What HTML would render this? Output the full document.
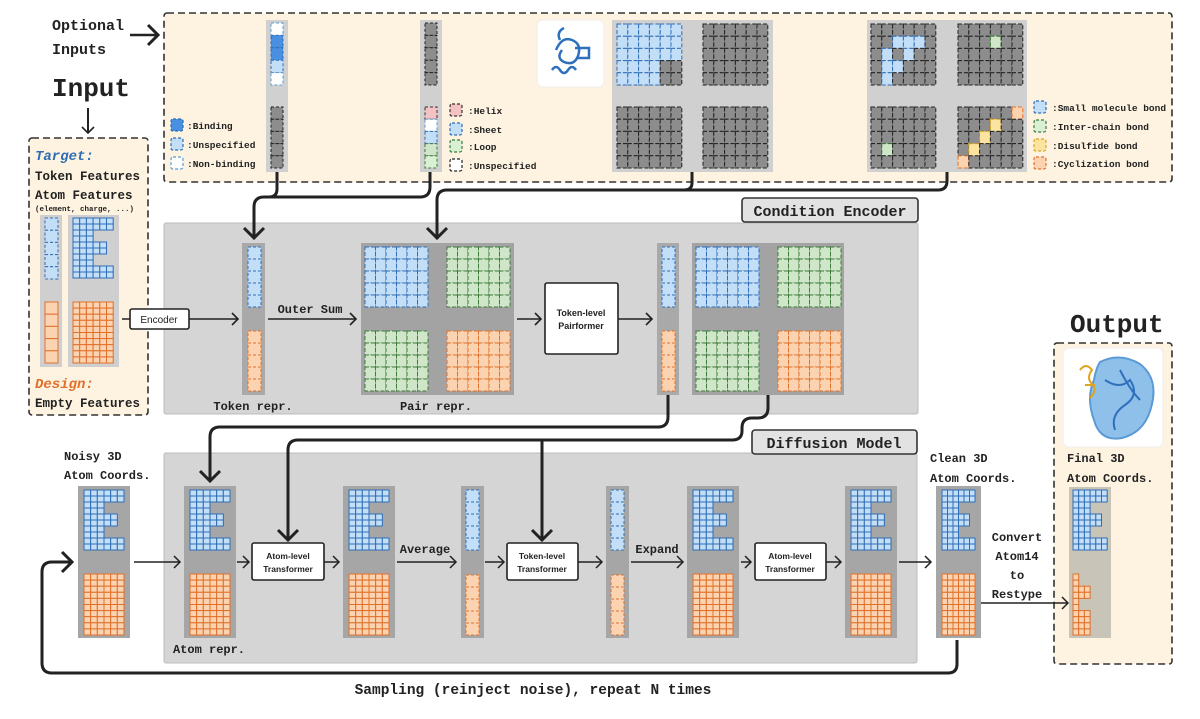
<!DOCTYPE html>
<html><head><meta charset="utf-8"><style>
html,body{margin:0;padding:0;background:#fff;}
svg{display:block;}
.m{font-family:"Liberation Mono",monospace;font-weight:bold;fill:#222;}
.s{font-family:"Liberation Sans",sans-serif;fill:#222;}
</style></head><body>
<svg id="s" width="1200" height="719" viewBox="0 0 1200 719" xmlns="http://www.w3.org/2000/svg">
<defs>
<marker id="a" markerUnits="userSpaceOnUse" markerWidth="14" markerHeight="14" refX="7" refY="7" orient="auto"><path d="M1,1 L7,7 L1,13" fill="none" stroke="#222" stroke-width="1.6"/></marker>
<marker id="b" markerUnits="userSpaceOnUse" markerWidth="24" markerHeight="24" refX="12" refY="12" orient="auto"><path d="M2,2 L12,12 L2,22" fill="none" stroke="#222" stroke-width="3"/></marker>
</defs>
<rect x="164" y="13" width="1008" height="169" rx="3" fill="#fdf3e0" stroke="#333" stroke-width="1.6" stroke-dasharray="7,4"/>
<rect x="29" y="138" width="119" height="277" rx="3" fill="#fdf3e0" stroke="#333" stroke-width="1.6" stroke-dasharray="7,4"/>
<rect x="1054" y="343" width="118" height="321" rx="3" fill="#fdf3e0" stroke="#333" stroke-width="1.6" stroke-dasharray="7,4"/>
<rect x="164" y="223" width="754" height="191" rx="2" fill="#d5d5d5" stroke="#bcbcbc"/>
<rect x="742" y="198" width="176" height="24" rx="3" fill="#e2e2e2" stroke="#333" stroke-width="1.6"/>
<rect x="164" y="453" width="753" height="210" rx="2" fill="#d5d5d5" stroke="#bcbcbc"/>
<rect x="752" y="430" width="165" height="24" rx="3" fill="#e2e2e2" stroke="#333" stroke-width="1.6"/>
<rect x="537" y="20" width="67" height="67" rx="6" fill="#fff" stroke="#eee"/>
<path d="M552,70 q4,-6 8,0 q4,6 8,0 q4,-6 8,0 M556,50 q6,-14 16,-10 q10,4 6,16 q-4,10 -14,6 q-8,-4 -2,-12 M575,48 h14 v10 h-12 M560,40 q-4,-8 4,-12" fill="none" stroke="#2f70bd" stroke-width="2.5"/>
<rect x="1063" y="348" width="100" height="99" rx="6" fill="#fff" stroke="#eee"/>
<path d="M1100,362 q20,-10 40,2 q18,14 12,40 q-6,28 -30,34 q-22,4 -28,-18 q-8,-22 0,-40 q2,-12 6,-18z" fill="#8fc0ea" stroke="#5b9bd5" stroke-width="2"/>
<path d="M1105,380 q15,10 25,0 q10,15 -5,25 q-15,10 -10,25 M1120,370 q10,20 20,30" fill="none" stroke="#2f70bd" stroke-width="2"/>
<path d="M1080,370 q6,-8 12,0 q-6,8 0,14 q6,6 -2,14 M1085,385 h10" fill="none" stroke="#e0a41f" stroke-width="2"/>
<g id="g"></g>
<g fill="none" stroke="#222">
<path d="M130,35 H158" stroke-width="2.5" marker-end="url(#b)"/>
<path d="M88,108 V133" stroke-width="2" marker-end="url(#a)"/>
<path d="M122,319 H130" stroke-width="1.5"/>
<rect x="130" y="309" width="59" height="20" rx="2" fill="#fff" stroke="#222" stroke-width="1.6"/>
<path d="M189,319 H238" stroke-width="1.5" marker-end="url(#a)"/>
<path d="M268,319 H356" stroke-width="1.5" marker-end="url(#a)"/>
<path d="M517,319 H541" stroke-width="1.5" marker-end="url(#a)"/>
<rect x="545" y="283" width="73" height="71" rx="2" fill="#fff" stroke="#222" stroke-width="1.6"/>
<path d="M618,319 H652" stroke-width="1.5" marker-end="url(#a)"/>
<path d="M430,172 V187 Q430,197 420,197 H264 Q254,197 254,207 V238" stroke-width="3" marker-end="url(#b)"/>
<path d="M277,172 V189 Q277,197 269,197" stroke-width="3"/>
<path d="M947,172 V181 Q947,190 938,190 H447 Q437,190 437,200 V238" stroke-width="3" marker-end="url(#b)"/>
<path d="M692,172 V183 Q692,190 684,190" stroke-width="3"/>
<path d="M668,395 V417 Q668,427 658,427 H220 Q210,427 210,437 V481" stroke-width="3" marker-end="url(#b)"/>
<path d="M768,395 V408 Q768,418 758,418 H752 Q742,418 742,428 V431 Q742,440 732,440 H298 Q288,440 288,450 V540" stroke-width="3" marker-end="url(#b)"/>
<path d="M542,440 V540" stroke-width="3" marker-end="url(#b)"/>
<path d="M957,640 V664 Q957,673 948,673 H52 Q42,673 42,663 V572 Q42,562 52,562 H72" stroke-width="3" marker-end="url(#b)"/>
<path d="M134,562 H180 M237,562 H249 M324,562 H339 M397,562 H456 M485,562 H504 M578,562 H602 M631,562 H683 M741,562 H751 M826,562 H841 M899,562 H931 M981,603 H1068" stroke-width="1.5"/>
<path d="M174,556 L180,562 L174,568 M243,556 L249,562 L243,568 M333,556 L339,562 L333,568 M450,556 L456,562 L450,568 M498,556 L504,562 L498,568 M596,556 L602,562 L596,568 M677,556 L683,562 L677,568 M745,556 L751,562 L745,568 M835,556 L841,562 L835,568 M925,556 L931,562 L925,568 M1062,597 L1068,603 L1062,609" stroke-width="1.5"/>
<rect x="252" y="543" width="72" height="37" rx="2" fill="#fff" stroke="#222" stroke-width="1.6"/>
<rect x="507" y="543" width="71" height="37" rx="2" fill="#fff" stroke="#222" stroke-width="1.6"/>
<rect x="755" y="543" width="71" height="37" rx="2" fill="#fff" stroke="#222" stroke-width="1.6"/>
</g>
<text class="m" x="52" y="30" font-size="15">Optional</text>
<text class="m" x="52" y="54" font-size="15">Inputs</text>
<text class="m" x="52" y="96" font-size="26">Input</text>
<text class="m" x="1070" y="332" font-size="26">Output</text>
<text class="m" x="35" y="160" font-size="14" font-style="italic" style="fill:#2f6db5">Target:</text>
<text class="m" x="35" y="180" font-size="12.5">Token Features</text>
<text class="m" x="35" y="199" font-size="12.5">Atom Features</text>
<text class="m" x="35" y="211" font-size="7.5">(element, charge, ...)</text>
<text class="m" x="35" y="388" font-size="14" font-style="italic" style="fill:#e0702a">Design:</text>
<text class="m" x="35" y="407" font-size="12.5">Empty Features</text>
<text class="m" x="187" y="129" font-size="9.5">:Binding</text>
<text class="m" x="187" y="148" font-size="9.5">:Unspecified</text>
<text class="m" x="187" y="167" font-size="9.5">:Non-binding</text>
<text class="m" x="468" y="114" font-size="9.5">:Helix</text>
<text class="m" x="468" y="133" font-size="9.5">:Sheet</text>
<text class="m" x="468" y="150" font-size="9.5">:Loop</text>
<text class="m" x="468" y="169" font-size="9.5">:Unspecified</text>
<text class="m" x="1052" y="111" font-size="9.5">:Small molecule bond</text>
<text class="m" x="1052" y="130" font-size="9.5">:Inter-chain bond</text>
<text class="m" x="1052" y="149" font-size="9.5">:Disulfide bond</text>
<text class="m" x="1052" y="167" font-size="9.5">:Cyclization bond</text>
<text class="m" x="830" y="216" font-size="15" text-anchor="middle">Condition Encoder</text>
<text class="m" x="834" y="448" font-size="15" text-anchor="middle">Diffusion Model</text>
<text class="s" x="159" y="323" font-size="10" text-anchor="middle">Encoder</text>
<text class="s" x="581" y="316" font-size="9" font-weight="bold" text-anchor="middle">Token-level</text>
<text class="s" x="581" y="329" font-size="9" font-weight="bold" text-anchor="middle">Pairformer</text>
<text class="m" x="310" y="313" font-size="12" text-anchor="middle">Outer Sum</text>
<text class="m" x="253" y="410" font-size="12" text-anchor="middle">Token repr.</text>
<text class="m" x="436" y="410" font-size="12" text-anchor="middle">Pair repr.</text>
<text class="m" x="64" y="460" font-size="12">Noisy 3D</text>
<text class="m" x="64" y="479" font-size="12">Atom Coords.</text>
<text class="m" x="930" y="462" font-size="12">Clean 3D</text>
<text class="m" x="930" y="482" font-size="12">Atom Coords.</text>
<text class="m" x="1067" y="462" font-size="12">Final 3D</text>
<text class="m" x="1067" y="482" font-size="12">Atom Coords.</text>
<text class="m" x="209" y="653" font-size="12" text-anchor="middle">Atom repr.</text>
<text class="m" x="425" y="553" font-size="12" text-anchor="middle">Average</text>
<text class="m" x="657" y="553" font-size="12" text-anchor="middle">Expand</text>
<text class="m" x="1017" y="541" font-size="12" text-anchor="middle">Convert</text>
<text class="m" x="1017" y="560" font-size="12" text-anchor="middle">Atom14</text>
<text class="m" x="1017" y="579" font-size="12" text-anchor="middle">to</text>
<text class="m" x="1017" y="598" font-size="12" text-anchor="middle">Restype</text>
<text class="m" x="533" y="694" font-size="14.5" text-anchor="middle">Sampling (reinject noise), repeat N times</text>
<text class="s" x="288" y="559" font-size="8.5" font-weight="bold" text-anchor="middle">Atom-level</text>
<text class="s" x="288" y="572" font-size="8.5" font-weight="bold" text-anchor="middle">Transformer</text>
<text class="s" x="542" y="559" font-size="8.5" font-weight="bold" text-anchor="middle">Token-level</text>
<text class="s" x="542" y="572" font-size="8.5" font-weight="bold" text-anchor="middle">Transformer</text>
<text class="s" x="790" y="559" font-size="8.5" font-weight="bold" text-anchor="middle">Atom-level</text>
<text class="s" x="790" y="572" font-size="8.5" font-weight="bold" text-anchor="middle">Transformer</text>
</svg>
<script>
var G=document.getElementById('g'),NS='http://www.w3.org/2000/svg';
function R(x,y,w,h,f,st,sw,da,rx){var e=document.createElementNS(NS,'rect');e.setAttribute('x',x);e.setAttribute('y',y);e.setAttribute('width',w);e.setAttribute('height',h);e.setAttribute('fill',f);e.setAttribute('stroke',st||'none');e.setAttribute('stroke-width',sw||1);if(da)e.setAttribute('stroke-dasharray',da);if(rx)e.setAttribute('rx',rx);G.appendChild(e);}
var C={b:['#c3dff8','#2f6db5'],bd:['#4a90e2','#2f6db5'],w:['#ffffff','#5b9bd5'],o:['#fbd3b0','#e0702a'],g:['#cfe6c8','#3d7a3d'],k:['#8d8d8d','#222'],p:['#f4c2c2','#333'],y:['#fbe3a0','#d9a520'],lg:['#d9f0d3','#3d7a3d']};
function cells(x,y,cols,rows,cw,ch,fn,da){for(var r=0;r<rows;r++)for(var c=0;c<cols;c++){var k=fn(r,c);if(!k)continue;R(x+c*cw,y+r*ch,cw,ch,C[k][0],C[k][1],1,da);}}
function col(x,y,w,h,f){R(x,y,w,h,f);}
function leg(x,y,k){R(x,y,12,12,C[k][0],C[k][1],1.2,'3,2',2);}
leg(171,119,'bd');leg(171,138,'b');leg(171,157,'w');
leg(450,104,'p');leg(450,123,'b');leg(450,140,'lg');leg(450,159,'w');
G.lastChild.setAttribute('stroke','#222');
leg(1034,101,'b');leg(1034,120,'lg');leg(1034,139,'y');leg(1034,157,'o');
col(266,20,22,152,'#d0d0d0');
var bt=['w','bd','bd','b','w'];cells(271,23,1,5,12,12.4,function(r){return bt[r];},'3,2');
cells(271,107,1,5,12,12.2,function(){return 'k';},'3,2');
col(420,20,22,152,'#d0d0d0');
cells(425,23,1,5,12,12.4,function(){return 'k';},'3,2');
var st=['p','w','b','g','lg'];cells(425,107,1,5,12,12.2,function(r){return st[r];},'3,2');
col(612,20,161,152,'#d0d0d0');col(867,20,160,152,'#d0d0d0');
function quad(x,y,fn){cells(x,y,6,5,10.8,12.2,fn,'4,2');}
quad(617,24,function(r,c){return (r>=3&&c>=4)?'k':'b';});
quad(703,24,function(){return 'k';});quad(617,107,function(){return 'k';});quad(703,107,function(){return 'k';});
var bl={'1,2':1,'1,3':1,'1,4':1,'2,1':1,'2,3':1,'3,1':1,'3,2':1,'4,1':1};
quad(871,24,function(r,c){return bl[r+','+c]?'b':'k';});
quad(958,24,function(r,c){return (r==1&&c==3)?'g':'k';});
quad(871,107,function(r,c){return (r==3&&c==1)?'g':'k';});
quad(958,107,function(r,c){if(r==0&&c==5)return 'o';if((r==1&&c==3)||(r==2&&c==2)||(r==3&&c==1))return 'y';if(r==4&&c==0)return 'o';return 'k';});
col(40,215,22,152,'#cfcfcf');col(68,215,51,152,'#cfcfcf');
cells(45,218,1,5,13,12.2,function(){return 'b';},'3,2');
cells(45,302,1,5,13,12.2,function(){return 'o';});
var E=[6,6,3,3,5,5,3,3,6,6];
function Eshape(x,y,w){cells(x,y,6,10,w,6,function(r,c){return c<E[r]?'b':null;});}
function Ob(x,y,w){cells(x,y,6,10,w,6.1,function(){return 'o';});}
Eshape(73,218,6.7);Ob(73,302,6.7);
col(242,243,23,152,'#a9a9a9');
cells(248,247,1,5,13,12,function(){return 'b';},'3,2');
cells(248,331,1,5,13,12,function(){return 'o';},'3,2');
col(657,243,22,152,'#a9a9a9');
cells(662,247,1,5,13,12,function(){return 'b';},'3,2');
cells(662,331,1,5,13,12,function(){return 'o';},'3,2');
function pq(x,k){cells(x,247,6,5,10.5,12,function(){return k[0];},'4,2');cells(x,331,6,5,10.5,12,function(){return k[1];},'4,2');}
col(361,243,153,152,'#a3a3a3');pq(365,['b','g']);pq(447,['g','o']);
col(692,243,152,152,'#a3a3a3');pq(696,['b','g']);pq(778,['g','o']);
[[78,52],[184,52],[343,52],[687,52],[845,52],[936,45]].forEach(function(a){col(a[0],486,a[1],152,'#a6a6a6');var w=(a[1]-12)/6;Eshape(a[0]+6,490,w);Ob(a[0]+6,574,w);});
[461,606].forEach(function(x){col(x,486,23,152,'#a6a6a6');cells(x+5,490,1,5,13,12,function(){return 'b';},'3,2');cells(x+5,575,1,5,13,12,function(){return 'o';},'3,2');});
col(1069,487,42,151,'#c9c4b8');Eshape(1073,490,5.7);
var St=[1,1,3,3,1,1,3,3,3,3];cells(1073,574,6,10,5.7,6.1,function(r,c){return c<St[r]?'o':null;});
</script>
</body></html>
